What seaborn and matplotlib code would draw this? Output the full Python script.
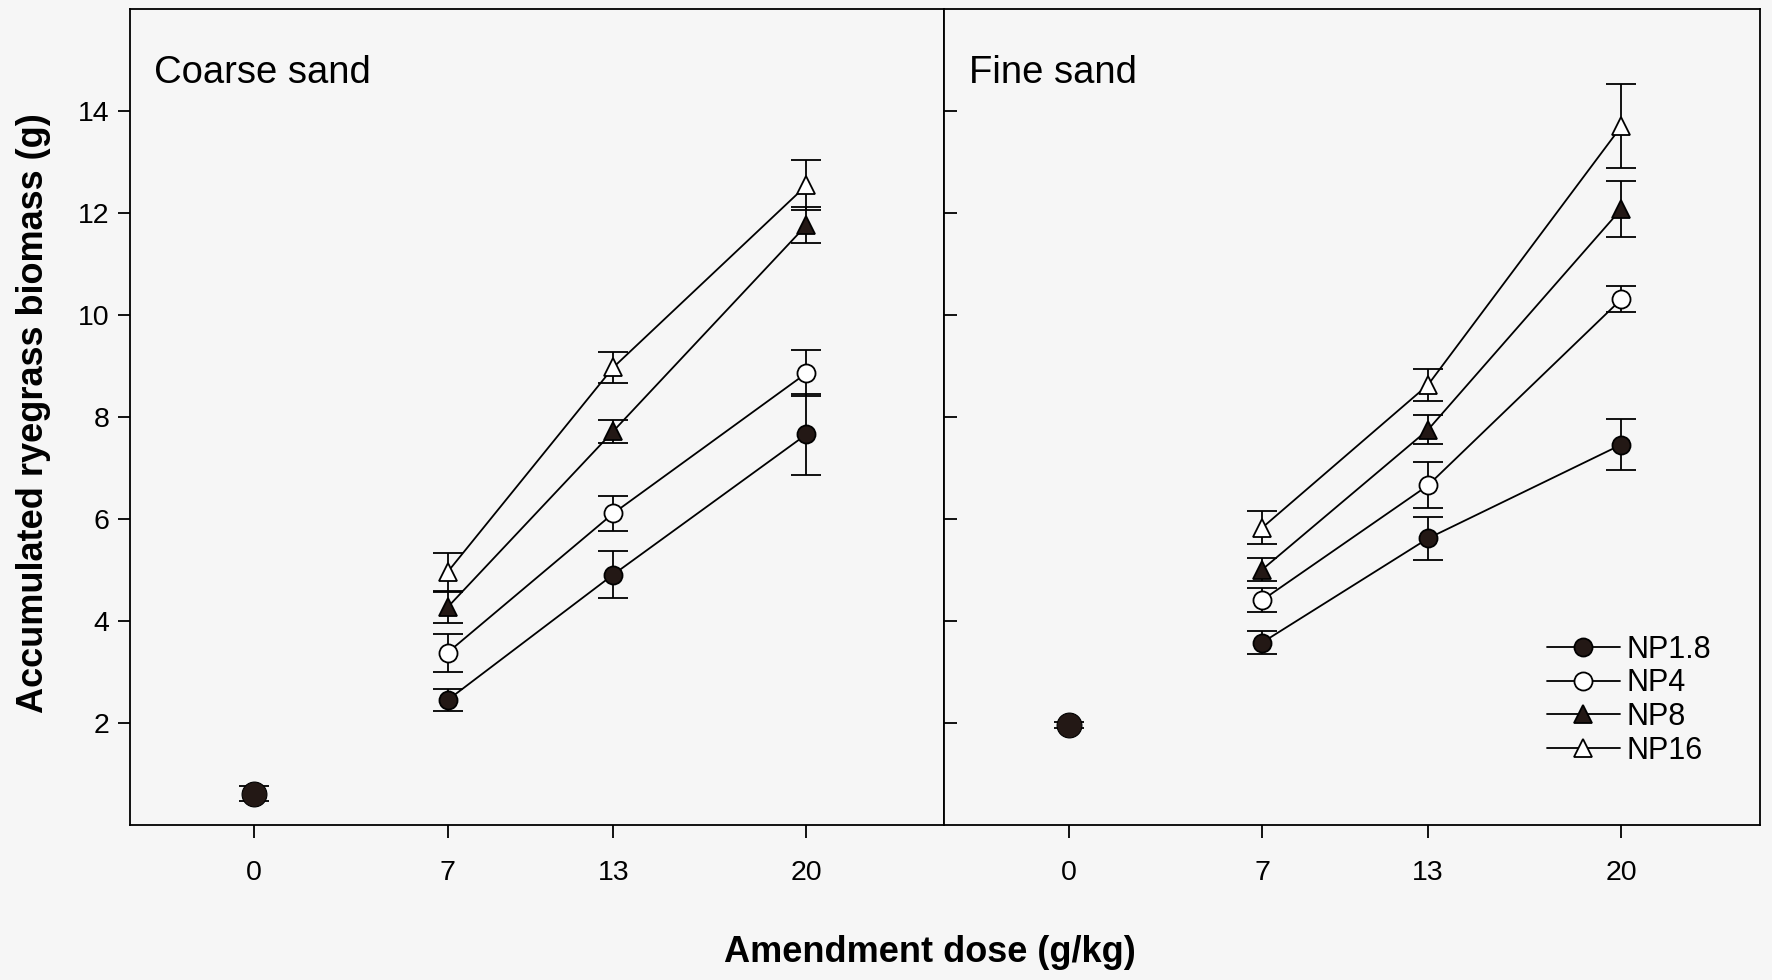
import numpy as np
import pandas as pd
import seaborn as sns
import matplotlib
matplotlib.use("Agg")
import matplotlib.pyplot as plt

doses = [7, 13, 20]
series = ["NP1.8", "NP4", "NP8", "NP16"]

# control (dose 0) values, one per soil
control_dose = 0
coarse_ctrl, coarse_ctrl_err = 0.62, 0.15
fine_ctrl, fine_ctrl_err = 1.96, 0.06

coarse_np18 = [2.45, 4.91, 7.66]
coarse_np4 = [3.38, 6.11, 8.86]
coarse_np8 = [4.27, 7.72, 11.76]
coarse_np16 = [4.96, 8.97, 12.54]
coarse_np18_err = [0.22, 0.46, 0.80]
coarse_np4_err = [0.37, 0.35, 0.45]
coarse_np8_err = [0.30, 0.23, 0.35]
coarse_np16_err = [0.38, 0.30, 0.49]

fine_np18 = [3.58, 5.62, 7.46]
fine_np4 = [4.41, 6.66, 10.31]
fine_np8 = [5.01, 7.75, 12.08]
fine_np16 = [5.83, 8.63, 13.70]
fine_np18_err = [0.22, 0.42, 0.50]
fine_np4_err = [0.23, 0.45, 0.25]
fine_np8_err = [0.22, 0.28, 0.55]
fine_np16_err = [0.32, 0.32, 0.82]

BG = "#f6f6f6"
DARK = "#231815"
STYLE = {
    "NP1.8": dict(marker="o", markerfacecolor=DARK, markersize=13),
    "NP4": dict(marker="o", markerfacecolor="white", markersize=13),
    "NP8": dict(marker="^", markerfacecolor=DARK, markersize=13),
    "NP16": dict(marker="^", markerfacecolor="white", markersize=13),
}

sns.set_theme(style="ticks")
plt.rcParams["font.family"] = ["Liberation Sans", "DejaVu Sans"]
plt.rcParams["axes.linewidth"] = 1.3
plt.rcParams["text.color"] = "black"

fig = plt.figure(figsize=(17.72, 9.8), dpi=100, facecolor=BG)
ax1 = fig.add_axes([0.0734, 0.158, 0.4596, 0.833])
ax2 = fig.add_axes([0.533, 0.158, 0.460, 0.833])

panels = [
    (ax1, "Coarse sand", coarse_ctrl, coarse_ctrl_err,
     [coarse_np18, coarse_np4, coarse_np8, coarse_np16],
     [coarse_np18_err, coarse_np4_err, coarse_np8_err, coarse_np16_err]),
    (ax2, "Fine sand", fine_ctrl, fine_ctrl_err,
     [fine_np18, fine_np4, fine_np8, fine_np16],
     [fine_np18_err, fine_np4_err, fine_np8_err, fine_np16_err]),
]

for ax, title, ctrl, ctrl_err, vals, errs in panels:
    ax.set_facecolor(BG)
    for name, y, e in zip(series, vals, errs):
        df = pd.DataFrame({"dose": doses, "biomass": y})
        ax.errorbar(df["dose"], df["biomass"], yerr=e, fmt="none",
                    ecolor="black", elinewidth=1.3, capsize=11, capthick=1.3,
                    zorder=2)
        sns.lineplot(data=df, x="dose", y="biomass", ax=ax, color="black",
                     linewidth=1.3, markeredgecolor="black",
                     markeredgewidth=1.3, label=name, legend=False,
                     zorder=3, **STYLE[name])
    ax.errorbar([control_dose], [ctrl], yerr=ctrl_err, fmt="none",
                ecolor="black", elinewidth=1.3, capsize=11, capthick=1.3,
                zorder=2)
    sns.scatterplot(x=[control_dose], y=[ctrl], ax=ax, color=DARK, s=320,
                    edgecolor="black", linewidth=0.8, zorder=4, legend=False)

    ax.set_xlim(-4.5, 25)
    ax.set_ylim(0, 16)
    ax.set_xticks([0, 7, 13, 20])
    ax.set_yticks([2, 4, 6, 8, 10, 12, 14])
    ax.set_xlabel("")
    ax.set_ylabel("")
    ax.tick_params(axis="x", direction="out", length=9, width=1.3,
                   pad=16, labelsize=20.5, colors="black")
    ax.text(0.03, 0.921, title, transform=ax.transAxes, fontsize=27.5,
            va="center", ha="left", color="black")
    for sp in ax.spines.values():
        sp.set_visible(True)
        sp.set_color("black")

ax1.tick_params(axis="y", direction="out", length=9, width=1.3, pad=6,
                labelsize=20.5, colors="black")
ax2.tick_params(axis="y", direction="in", length=9, width=1.3,
                labelleft=False, colors="black")

handles, labels = ax2.get_legend_handles_labels()
leg = ax2.legend(handles, labels, loc="lower left",
                 bbox_to_anchor=(0.72, 0.054), frameon=False, fontsize=22,
                 handlelength=2.4, handletextpad=0.22, labelspacing=0.12,
                 borderpad=0)
for t in leg.get_texts():
    t.set_color("black")

fig.text(0.525, 0.028, "Amendment dose (g/kg)", ha="center", va="center",
         fontsize=26, fontweight="bold", color="black")
fig.text(0.019, 0.578, "Accumulated ryegrass biomass (g)", ha="center",
         va="center", rotation=90, fontsize=26, fontweight="bold",
         color="black")

fig.savefig("out.png", dpi=100, facecolor=BG)
